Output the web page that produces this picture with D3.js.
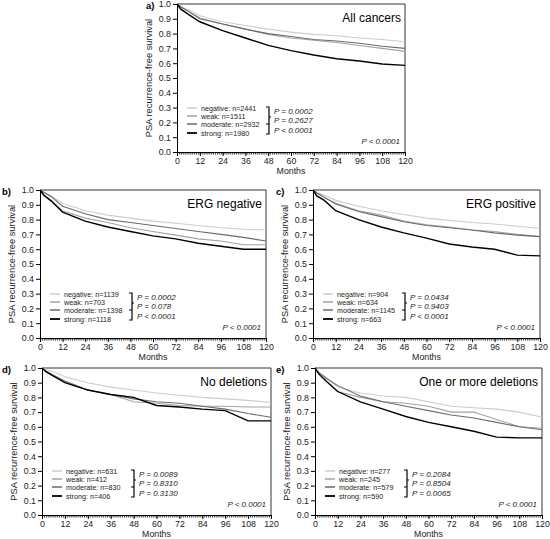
<!DOCTYPE html>
<html><head><meta charset="utf-8">
<script src="https://cdn.jsdelivr.net/npm/d3@7"></script>
<style>
body{margin:0;background:#fff;}
svg{display:block;font-family:"Liberation Sans",Arial,sans-serif;}
</style></head>
<body><svg id="c" width="550" height="539"></svg>
<script>
// ---------------- data ----------------
const months = [0, 2, 6, 12, 24, 36, 48, 60, 72, 84, 96, 108, 120];
const groups = ["negative", "weak", "moderate", "strong"];
const xTicks = [0, 12, 24, 36, 48, 60, 72, 84, 96, 108, 120];
const yTicks = [0, 0.1, 0.2, 0.3, 0.4, 0.5, 0.6, 0.7, 0.8, 0.9, 1.0];

const panelLetters = ["a)", "b)", "c)", "d)", "e)"];
const panelTitles = ["All cancers", "ERG negative", "ERG positive", "No deletions", "One or more deletions"];

const nA = [2441, 1511, 2932, 1980];
const nB = [1139, 703, 1398, 1118];
const nC = [904, 634, 1145, 663];
const nD = [631, 412, 830, 406];
const nE = [277, 245, 579, 590];

const pA = ["P = 0.0002", "P = 0.2627", "P < 0.0001"];
const pB = ["P = 0.0002", "P = 0.078", "P < 0.0001"];
const pC = ["P = 0.0434", "P = 0.9403", "P < 0.0001"];
const pD = ["P = 0.0089", "P = 0.8310", "P = 0.3130"];
const pE = ["P = 0.2084", "P = 0.8504", "P = 0.0065"];
const pOverall = "P < 0.0001";

// survival values at `months`, per group (negative, weak, moderate, strong)
const survA = [
  [1, 0.985, 0.96, 0.92, 0.88, 0.855, 0.83, 0.81, 0.795, 0.785, 0.77, 0.76, 0.745],
  [1, 0.98, 0.95, 0.905, 0.865, 0.83, 0.795, 0.77, 0.755, 0.74, 0.72, 0.70, 0.68],
  [1, 0.98, 0.95, 0.90, 0.865, 0.83, 0.80, 0.78, 0.76, 0.75, 0.735, 0.715, 0.70],
  [1, 0.965, 0.93, 0.88, 0.82, 0.77, 0.72, 0.685, 0.655, 0.63, 0.615, 0.595, 0.585]
];
const survB = [
  [1, 0.985, 0.96, 0.91, 0.86, 0.83, 0.81, 0.79, 0.775, 0.76, 0.745, 0.735, 0.73],
  [1, 0.97, 0.93, 0.86, 0.81, 0.78, 0.745, 0.72, 0.695, 0.67, 0.655, 0.63, 0.63],
  [1, 0.985, 0.955, 0.89, 0.84, 0.80, 0.78, 0.76, 0.74, 0.72, 0.70, 0.68, 0.655],
  [1, 0.965, 0.925, 0.85, 0.79, 0.75, 0.72, 0.69, 0.67, 0.64, 0.62, 0.60, 0.60]
];
const survC = [
  [1, 0.985, 0.965, 0.93, 0.89, 0.86, 0.835, 0.81, 0.795, 0.78, 0.77, 0.755, 0.74],
  [1, 0.98, 0.95, 0.91, 0.86, 0.83, 0.79, 0.765, 0.75, 0.73, 0.72, 0.70, 0.685],
  [1, 0.98, 0.95, 0.905, 0.855, 0.82, 0.785, 0.76, 0.745, 0.73, 0.71, 0.695, 0.685],
  [1, 0.96, 0.93, 0.86, 0.80, 0.75, 0.71, 0.675, 0.635, 0.615, 0.60, 0.56, 0.555]
];
const survD = [
  [1, 0.99, 0.975, 0.94, 0.90, 0.87, 0.85, 0.83, 0.815, 0.80, 0.79, 0.78, 0.765],
  [1, 0.98, 0.95, 0.91, 0.85, 0.82, 0.77, 0.76, 0.745, 0.74, 0.74, 0.735, 0.735],
  [1, 0.98, 0.95, 0.91, 0.85, 0.82, 0.79, 0.77, 0.76, 0.74, 0.72, 0.69, 0.665],
  [1, 0.975, 0.945, 0.90, 0.85, 0.82, 0.80, 0.745, 0.735, 0.72, 0.71, 0.64, 0.64]
];
const survE = [
  [1, 0.97, 0.93, 0.87, 0.83, 0.81, 0.80, 0.77, 0.74, 0.73, 0.72, 0.70, 0.665],
  [1, 0.96, 0.91, 0.84, 0.80, 0.77, 0.76, 0.74, 0.70, 0.70, 0.65, 0.60, 0.59],
  [1, 0.97, 0.93, 0.88, 0.81, 0.77, 0.74, 0.71, 0.68, 0.66, 0.63, 0.60, 0.58],
  [1, 0.96, 0.91, 0.84, 0.77, 0.72, 0.67, 0.63, 0.60, 0.57, 0.53, 0.525, 0.525]
];

// ---------------- layout / styles ----------------
const colors = ["#cdcdcd", "#a3a3a3", "#6b6b6b", "#000000"];
const widths = [1.1, 1.1, 1.1, 1.4];

const panels = [
  {x0: 177, x1: 405, y0: 4,   y1: 152, lx: 146, surv: survA, n: nA, p: pA},
  {x0: 40,  x1: 266, y0: 190, y1: 338, lx: 2,   surv: survB, n: nB, p: pB},
  {x0: 313, x1: 540, y0: 190, y1: 338, lx: 276, surv: survC, n: nC, p: pC},
  {x0: 42,  x1: 271, y0: 368, y1: 515, lx: 2,   surv: survD, n: nD, p: pD},
  {x0: 315, x1: 542, y0: 368, y1: 515, lx: 276, surv: survE, n: nE, p: pE}
];

const svg = d3.select("#c");

panels.forEach((P, i) => {
  const x = d3.scaleLinear().domain([0, 120]).range([P.x0, P.x1]);
  const y = d3.scaleLinear().domain([0, 1]).range([P.y1, P.y0]);
  const g = svg.append("g");

  // frame top/right
  g.append("line").attr("x1", P.x0).attr("x2", P.x1).attr("y1", P.y0).attr("y2", P.y0)
    .attr("stroke", "#000").attr("stroke-width", 0.8);
  g.append("line").attr("x1", P.x1).attr("x2", P.x1).attr("y1", P.y0).attr("y2", P.y1)
    .attr("stroke", "#000").attr("stroke-width", 0.8);

  // curves
  const line = d3.line().x(d => x(d[0])).y(d => y(d[1])).curve(d3.curveLinear);
  P.surv.forEach((vals, k) => {
    g.append("path").datum(months.map((m, j) => [m, vals[j]]))
      .attr("d", line).attr("fill", "none")
      .attr("stroke", colors[k]).attr("stroke-width", widths[k]);
  });

  // minor x ticks
  g.append("g").attr("transform", `translate(0,${P.y1})`)
    .call(d3.axisBottom(x).tickValues(d3.range(0, 121, 1)).tickSize(2.5).tickFormat(""))
    .call(a => a.select(".domain").remove())
    .call(a => a.selectAll("line").attr("stroke-width", 0.8));
  // major x axis
  const xa = g.append("g").attr("transform", `translate(0,${P.y1})`)
    .call(d3.axisBottom(x).tickValues(xTicks).tickSize(4).tickSizeOuter(0).tickPadding(2));
  xa.selectAll("text").attr("font-size", 8.8).attr("fill", "#222").attr("font-family", "Liberation Sans, Arial, sans-serif");
  // y axis
  const ya = g.append("g").attr("transform", `translate(${P.x0},0)`)
    .call(d3.axisLeft(y).tickValues(yTicks).tickFormat(d3.format(".1f")).tickSize(4).tickSizeOuter(0).tickPadding(2));
  ya.selectAll("text").attr("font-size", 8.8).attr("fill", "#222").attr("font-family", "Liberation Sans, Arial, sans-serif");

  // axis titles
  g.append("text").attr("x", (P.x0 + P.x1) / 2).attr("y", P.y1 + 22)
    .attr("text-anchor", "middle").attr("font-size", 8.8).attr("fill", "#222").text("Months");
  g.append("text").attr("transform", `translate(${P.x0 - 25},${(P.y0 + P.y1) / 2}) rotate(-90)`)
    .attr("text-anchor", "middle").attr("font-size", 9.3).attr("fill", "#222").text("PSA recurrence-free survival");

  // panel letter
  g.append("text").attr("x", P.lx).attr("y", P.y0 + 5)
    .attr("font-size", 9.5).attr("font-weight", "bold").text(panelLetters[i]);

  // title
  g.append("text").attr("x", P.x1 - 4).attr("y", P.y0 + 18)
    .attr("text-anchor", "end").attr("font-size", 12).text(panelTitles[i]);

  // legend
  const rows = [P.y1 - 44, P.y1 - 36, P.y1 - 28, P.y1 - 19];
  groups.forEach((grp, k) => {
    g.append("line").attr("x1", P.x0 + 10).attr("x2", P.x0 + 20).attr("y1", rows[k]).attr("y2", rows[k])
      .attr("stroke", colors[k]).attr("stroke-width", k === 3 ? 1.8 : 1.5);
    g.append("text").attr("x", P.x0 + 24).attr("y", rows[k] + 2.5)
      .attr("font-size", 7.2).attr("fill", "#222").text(`${grp}: n=${P.n[k]}`);
  });
  const bx = P.x0 + 92;
  g.append("path")
    .attr("d", `M${bx - 3},${rows[0] - 1}H${bx}V${rows[3] + 1}H${bx - 3}M${bx - 3},${rows[2]}H${bx}M${bx},${rows[1] + 1}H${bx + 2}`)
    .attr("fill", "none").attr("stroke", "#000").attr("stroke-width", 1.2);
  const prow = [P.y1 - 38, P.y1 - 29, P.y1 - 19.5];
  P.p.forEach((t, k) => {
    g.append("text").attr("x", bx + 5).attr("y", prow[k])
      .attr("font-size", 8).attr("font-style", "italic").attr("fill", "#222").text(t);
  });
  g.append("text").attr("x", P.x1 - 5).attr("y", P.y1 - 8)
    .attr("text-anchor", "end").attr("font-size", 8).attr("font-style", "italic").attr("fill", "#222").text(pOverall);
});
</script></body></html>
